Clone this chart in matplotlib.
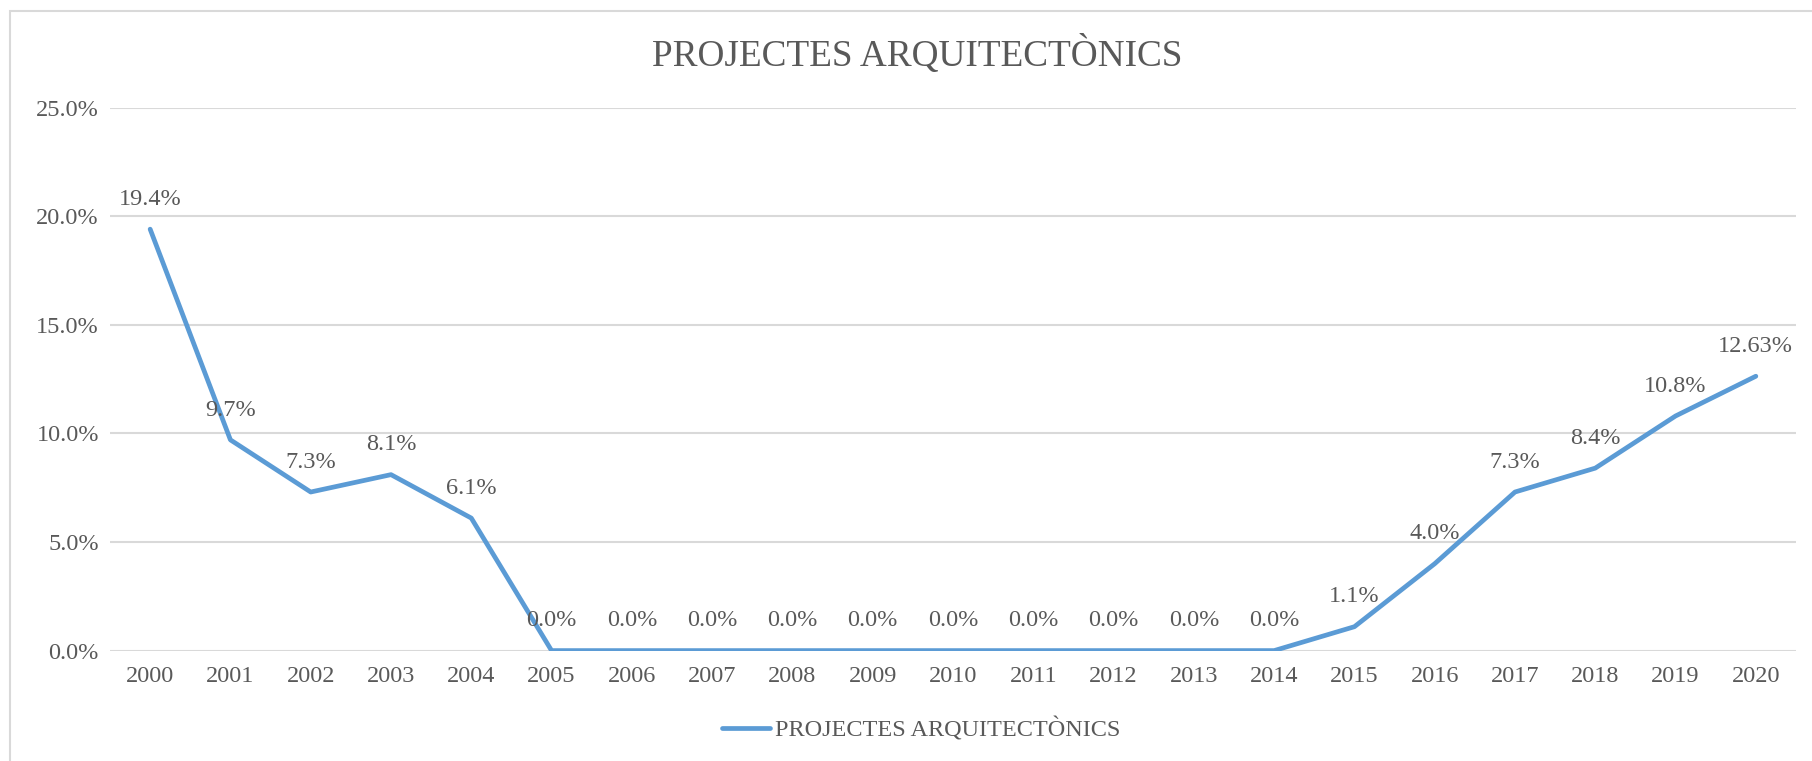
import numpy as np
import matplotlib.pyplot as plt
from matplotlib.patches import Rectangle

# data
years = [str(y) for y in range(2000, 2021)]
values = [19.4, 9.7, 7.3, 8.1, 6.1, 0.0, 0.0, 0.0, 0.0, 0.0, 0.0,
          0.0, 0.0, 0.0, 0.0, 1.1, 4.0, 7.3, 8.4, 10.8, 12.63]
labels = ["19.4%", "9.7%", "7.3%", "8.1%", "6.1%", "0.0%", "0.0%", "0.0%",
          "0.0%", "0.0%", "0.0%", "0.0%", "0.0%", "0.0%", "0.0%", "1.1%",
          "4.0%", "7.3%", "8.4%", "10.8%", "12.63%"]
series_name = "PROJECTES ARQUITECTÒNICS"
yticks = [0, 5, 10, 15, 20, 25]

plt.rcParams['font.family'] = ['Liberation Serif', 'DejaVu Serif']
txt = '#595959'
blue = '#5B9BD5'
fs = 17.5

fig = plt.figure(figsize=(18.12, 7.61), dpi=100)
W, H = 1812, 761
ax = fig.add_axes([110 / W, (H - 650.6) / H, (1796 - 110) / W, (650.6 - 107.5) / H])

# chart border (only left/top visible in the reference)
fig.patches.append(Rectangle((10 / W, -0.05), 1.1, (H - 11) / H + 0.05,
                             transform=fig.transFigure, fill=False,
                             edgecolor='#D9D9D9', linewidth=1.5))

x = np.arange(len(years))
ax.plot(x, values, color=blue, linewidth=3.4, solid_capstyle='round',
        solid_joinstyle='round', label=series_name, zorder=3)

for xi, v, lab in zip(x, values, labels):
    ax.annotate(lab, (xi, v), xytext=(0, 21.5), textcoords='offset points',
                ha='center', va='center', fontsize=fs, color=txt, zorder=4)

ax.set_xlim(-0.5, len(years) - 0.5)
ax.set_ylim(0, 25)
ax.set_xticks(x)
ax.set_xticklabels(years)
ax.set_yticks(yticks)
ax.set_yticklabels([f"{t:.1f}%" for t in yticks])
ax.tick_params(axis='both', length=0, labelsize=fs, labelcolor=txt)
ax.tick_params(axis='x', pad=11)
ax.tick_params(axis='y', pad=8)
ax.grid(axis='y', color='#D9D9D9', linewidth=1.5)
ax.set_axisbelow(True)
for s in ax.spines.values():
    s.set_visible(False)

fig.text(917 / W, 1 - 54 / H, series_name, ha='center', va='center',
         fontsize=26.8, color=txt)

leg = fig.legend(loc='center', bbox_to_anchor=(921 / W, 1 - 730 / H),
                 frameon=False, fontsize=fs, handlelength=2.0,
                 handletextpad=0.2, labelcolor=txt)

fig.savefig('out.png', dpi=100)
